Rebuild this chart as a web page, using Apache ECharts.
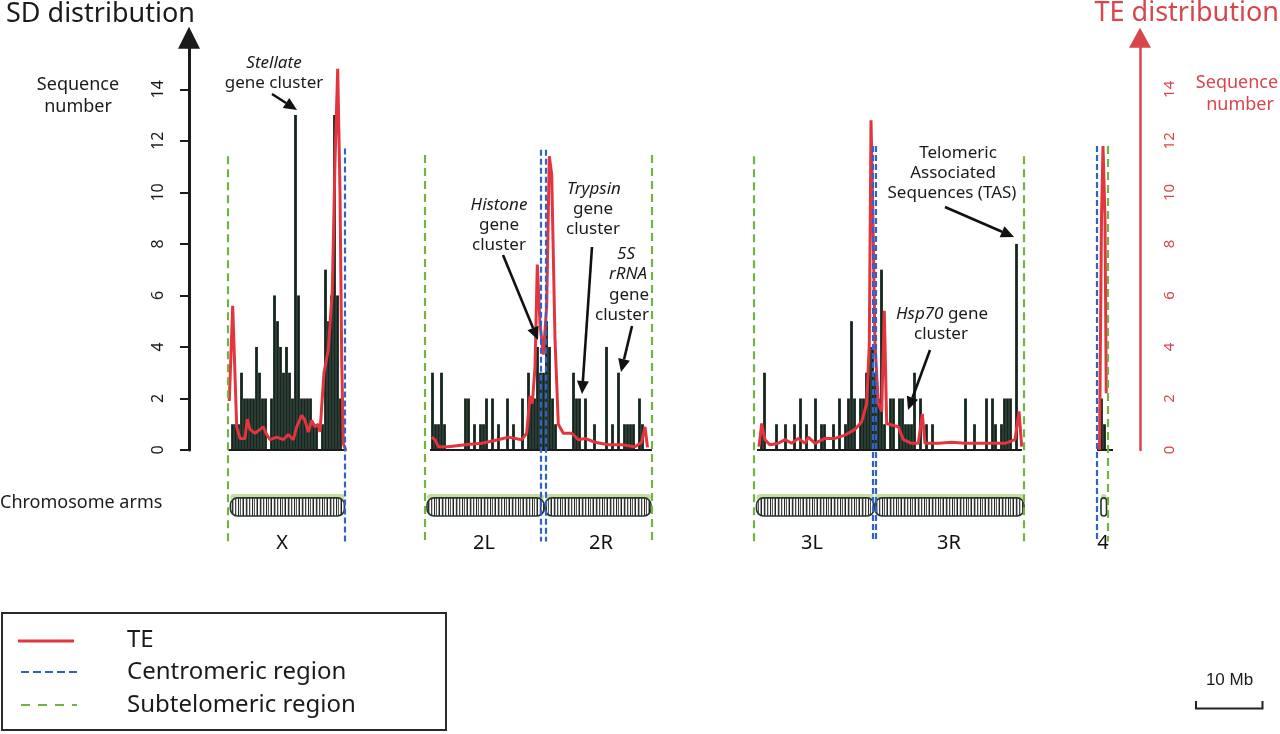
<!DOCTYPE html>
<html>
<head>
<meta charset="utf-8">
<script src="https://cdn.jsdelivr.net/npm/echarts@6/dist/echarts.min.js"></script>
<style>
html,body{margin:0;padding:0;background:#fff;}
#main{width:1280px;height:734px;}
</style>
</head>
<body>
<div id="main"></div>
<script>
// positions are Mb on one shared axis (arms laid side by side)
var binMb = 0.6
var chromStart = [8.6, 48.6, 114.4, 182.4]   // X, 2, 3, 4 : start of first SD bin

// SD sequence number per bin
var sdX = [0,1,1,1,3,2,2,2,2,4,3,2,2,0,2,6,5,4,3,4,3,2,13,6,2,2,2,2,1,1,0,1,7,5,6,13,6,2,0]
var sd2 = [0,3,1,1,3,1,0,0,0,0,0,0,2,2,0,1,0,1,1,2,0,2,0,1,0,0,2,0,1,0,0,2,0,3,2,2,4,3,3,5,4,2,1,0,0,0,0,0,3,2,2,0,2,0,0,1,0,0,0,4,0,1,0,3,0,1,1,1,1,0,2,1,0,0,0]
var sd3 = [0,1,3,0,0,0,1,0,0,1,0,0,1,0,2,0,1,0,0,2,0,1,1,0,0,1,0,2,0,1,2,5,2,0,2,2,3,4,4,3,2,7,1,0,2,2,0,2,2,1,1,1,3,0,2,0,1,0,1,0,0,0,0,0,0,0,0,0,0,2,0,0,1,0,0,0,2,0,2,1,0,1,2,2,2,0,8,0,0]
var sd4 = [0,2,1]

// TE sequence number along each chromosome
var teXPos = [8.86,9.54,10.34,11.0,12.0,12.46,13.0,14.0,15.0,15.66,16.34,17.0,18.34,19.66,20.66,21.66,22.34,23.34,24.0,24.66,25.34,26.0,26.66,27.0,27.8,28.66,29.46,30.0,30.54,31.0,31.34,31.66,32.14]
var teXVal = [1.9,5.6,0.9,0.45,0.45,1.2,0.8,0.65,0.8,0.9,0.6,0.4,0.5,0.4,0.6,0.4,0.9,1.35,1.15,0.7,1.15,0.9,1.0,0.7,3.0,3.9,6.2,11.2,14.8,10,3.5,0.25,0]
var te2Pos = [49.34,50.0,50.66,52.66,56.0,59.34,62.66,64.66,67.34,68.34,69.0,69.46,70.0,70.46,71.0,71.66,72.34,72.86,73.34,74.0,74.66,75.66,77.34,78.66,80.0,82.0,84.66,87.34,90.0,91.34,92.0,92.5]
var te2Val = [0.5,0.4,0.13,0.13,0.2,0.26,0.4,0.5,0.4,0.65,2.1,1.8,3.2,7.2,4.9,3.7,5.6,11.4,10.7,4.3,1.0,0.65,0.65,0.4,0.45,0.3,0.2,0.2,0.13,0.3,0.9,0.1]
var te3Pos = [114.8,115.34,116.0,117.0,118.66,120.0,121.34,122.66,124.0,124.66,126.0,128.0,130.0,132.0,134.0,135.34,136.34,136.86,137.2,137.54,138.0,138.66,139.34,139.86,140.34,141.34,142.66,143.66,145.34,146.66,147.46,148.0,150.66,153.34,156.0,158.66,161.34,164.0,166.0,166.8,167.34]
var te3Val = [0.13,1.03,0.4,0.2,0.26,0.4,0.26,0.45,0.26,0.5,0.26,0.45,0.45,0.58,0.8,1.1,1.8,4.1,12.8,9.6,4.1,1.8,1.5,5.4,1.03,0.97,0.9,0.4,0.26,0.26,1.4,0.26,0.26,0.3,0.26,0.26,0.26,0.26,0.4,1.5,0.13]
var te4Pos = [182.9,183.3,183.6,184.0,184.25]
var te4Val = [0,9,11.8,9,2.2]

// axis baselines under each chromosome
var baseStart = [8.7, 49.0, 114.4, 182.4]
var baseEnd = [32.3, 93.4, 167.4, 185.6]

// subtelomeric / centromeric region borders (x, top value)
var subtelPos = [8.5, 48.0, 93.3, 113.8, 167.7, 184.5]
var subtelTop = [11.4, 11.45, 11.45, 11.4, 11.4, 11.8]
var centroPos = [32.0, 71.2, 72.1, 137.5, 138.2, 182.3]
var centroTop = [11.7, 11.65, 11.65, 11.8, 11.8, 11.8]
var regionBottom = -3.55

// chromosome arms
var armNames = ['X', '2L', '2R', '3L', '3R', '4']
var armStart = [9.08, 48.4, 72.0, 114.3, 138.0, 183.2]
var armEnd = [31.9, 71.8, 93.2, 137.8, 167.8, 184.3]
var armLabelX = [19.4, 59.8, 83.2, 125.4, 152.8, 183.6]

var yTicks = [0, 2, 4, 6, 8, 10, 12, 14]

var FONT = '"Noto Sans", "Open Sans", sans-serif'
var ink = '#1b1b1b', barColor = '#15261d', teRed = '#e2353d', axisRed = '#d8454a'
var blue = '#2f63c6', green = '#72b443'

function binData(start, heights){
    return heights.map(function(h, i){ return [start + binMb * (i + 0.5), h] })
}
function pairs(xs, ys){
    return xs.map(function(x, i){ return [x, ys[i]] })
}

var sdData = binData(chromStart[0], sdX)
    .concat(binData(chromStart[1], sd2))
    .concat(binData(chromStart[2], sd3))
    .concat(binData(chromStart[3], sd4))

// barcode-like fill for the arm boxes
var pat = document.createElement('canvas')
pat.width = 14; pat.height = 4
var pg = pat.getContext('2d')
var stripeCols = ['#2a2a2a','#e6e6e6','#5a5a5a','#ffffff','#9a9a9a','#222222','#ffffff','#d8d8d8','#333333','#a8a8a8','#ffffff','#444444','#c8c8c8','#ffffff']
stripeCols.forEach(function(c, i){ pg.fillStyle = c; pg.fillRect(i, 0, 1, 4) })
var stripeFill = {image: pat, repeat: 'repeat'}

var armTop = -1.86, armBottom = -2.56, armLabelY = -3.62

function renderArm(params, api){
    var a = api.coord([api.value(0), armTop])
    var b = api.coord([api.value(1), armBottom])
    var w = b[0] - a[0], h = b[1] - a[1]
    var small = w < 10
    return {type: 'group', children: [
        {type: 'rect', shape: {x: a[0], y: a[1] - 4, width: w, height: 6, r: 3}, style: {fill: 'rgba(168,204,108,0.65)'}},
        {type: 'rect', shape: {x: a[0], y: a[1], width: w, height: h, r: small ? w / 2 : 7},
            style: {fill: small ? '#ffffff' : stripeFill, stroke: '#24352b', lineWidth: 1.6}}
    ]}
}

function txt(text, x, y, size, color, align, italic){
    var f = (italic ? 'italic ' : '') + size + 'px ' + FONT
    return {type: 'text', x: x, y: y, silent: true, z: 10,
        style: {text: text, font: f, fill: color, align: align, textAlign: align,
            verticalAlign: 'middle', textVerticalAlign: 'middle', legacy: false}}
}

function arrow(x1, y1, x2, y2){
    var dx = x2 - x1, dy = y2 - y1, len = Math.sqrt(dx * dx + dy * dy)
    var ux = dx / len, uy = dy / len, hl = 13, hw = 6
    var bx = x2 - ux * hl, by = y2 - uy * hl
    return [
        {type: 'line', silent: true, z: 10, shape: {x1: x1, y1: y1, x2: bx, y2: by}, style: {stroke: '#111', lineWidth: 2.6}},
        {type: 'polygon', silent: true, z: 10, shape: {points: [[x2, y2], [bx - uy * hw, by + ux * hw], [bx + uy * hw, by - ux * hw]]}, style: {fill: '#111'}}
    ]
}

var graphics = [
    txt('SD distribution', 6, 14, 27, ink, 'left'),
    txt('TE distribution', 1279, 13, 27, axisRed, 'right'),
    txt('Sequence', 78, 85, 18, ink, 'center'),
    txt('number', 78, 107, 18, ink, 'center'),
    txt('Sequence', 1237, 83, 18, axisRed, 'center'),
    txt('number', 1240, 105, 18, axisRed, 'center'),
    txt('Chromosome arms', 0, 503, 18, ink, 'left'),

    txt('Stellate', 274, 63, 17, ink, 'center', true),
    txt('gene cluster', 274, 83, 17, ink, 'center'),
    txt('Histone', 499, 205, 17, ink, 'center', true),
    txt('gene', 499, 225, 17, ink, 'center'),
    txt('cluster', 499, 245, 17, ink, 'center'),
    txt('Trypsin', 594, 189, 17, ink, 'center', true),
    txt('gene', 593, 209, 17, ink, 'center'),
    txt('cluster', 593, 229, 17, ink, 'center'),
    txt('5S', 626, 254, 17, ink, 'center', true),
    txt('rRNA', 628, 274, 17, ink, 'center', true),
    txt('gene', 629, 295, 17, ink, 'center'),
    txt('cluster', 622, 315, 17, ink, 'center'),
    txt('Telomeric', 958, 153, 17, ink, 'center'),
    txt('Associated', 953, 173, 17, ink, 'center'),
    txt('Sequences (TAS)', 952, 193, 17, ink, 'center'),
    {type: 'text', x: 942, y: 314, silent: true, z: 10,
        style: {text: '{i|Hsp70} gene', font: '17px ' + FONT, fill: ink, align: 'center', textAlign: 'center',
            verticalAlign: 'middle', textVerticalAlign: 'middle', legacy: false,
            rich: {i: {font: 'italic 17px ' + FONT, fill: ink}}}},
    txt('cluster', 941, 334, 17, ink, 'center'),

    // arm names under the boxes
    txt('X', 282, 543, 20, '#111', 'center'),
    txt('2L', 484, 543, 20, '#111', 'center'),
    txt('2R', 601, 543, 20, '#111', 'center'),
    txt('3L', 812, 543, 20, '#111', 'center'),
    txt('3R', 949, 543, 20, '#111', 'center'),
    txt('4', 1103, 543, 20, '#111', 'center'),

    // legend
    {type: 'rect', silent: true, shape: {x: 2, y: 613, width: 444, height: 117}, style: {fill: 'none', stroke: '#2a2a2a', lineWidth: 2}},
    {type: 'line', silent: true, shape: {x1: 18, y1: 641, x2: 74, y2: 641}, style: {stroke: teRed, lineWidth: 3}},
    {type: 'line', silent: true, shape: {x1: 21, y1: 672, x2: 77, y2: 672}, style: {stroke: blue, lineWidth: 2, lineDash: [8, 4]}},
    {type: 'line', silent: true, shape: {x1: 21, y1: 705, x2: 77, y2: 705}, style: {stroke: green, lineWidth: 2, lineDash: [9, 8]}},
    txt('TE', 127, 640, 24, ink, 'left'),
    txt('Centromeric region', 127, 672, 24, ink, 'left'),
    txt('Subtelomeric region', 127, 705, 24, ink, 'left'),

    // scale bar
    {type: 'text', x: 1229.5, y: 680, silent: true,
        style: {text: '10 Mb', font: '17px "Liberation Sans", Arial, sans-serif', fill: ink, align: 'center', textAlign: 'center',
            verticalAlign: 'middle', textVerticalAlign: 'middle', legacy: false}},
    {type: 'polyline', silent: true, shape: {points: [[1196, 701], [1196, 708.5], [1262.5, 708.5], [1262.5, 701]]},
        style: {fill: 'none', stroke: '#222', lineWidth: 2}}
]
graphics = graphics
    .concat(arrow(272, 94, 297, 110))
    .concat(arrow(503, 255, 538, 340))
    .concat(arrow(592, 247, 582, 394))
    .concat(arrow(632, 326, 621, 372))
    .concat(arrow(945, 207, 1014, 237))
    .concat(arrow(930, 350, 908, 410))

function teSeries(xs, ys){
    return {type: 'line', name: 'TE', xAxisIndex: 0, yAxisIndex: 1, data: pairs(xs, ys),
        showSymbol: false, symbol: 'none', lineStyle: {color: teRed, width: 3}, z: 4, silent: true}
}

var myChart = echarts.init(document.getElementById('main'))
var option = {
    animation: false,
    backgroundColor: '#ffffff',
    textStyle: {fontFamily: FONT},
    grid: [
        {left: 189, right: 140, top: 37.8, bottom: 284},
        {left: 189, right: 140, top: 37.8, bottom: 180.96}
    ],
    xAxis: [
        {gridIndex: 0, type: 'value', min: 0.8, max: 191, show: false},
        {gridIndex: 1, type: 'value', min: 0.8, max: 191, show: false}
    ],
    yAxis: [
        {gridIndex: 0, type: 'value', min: 0, max: 16, interval: 2, position: 'left',
            axisLine: {show: true, lineStyle: {color: ink, width: 3}, symbol: ['none', 'triangle'], symbolSize: [22, 22]},
            axisTick: {show: true, length: 9, lineStyle: {color: ink, width: 2}, customValues: yTicks},
            axisLabel: {rotate: 90, margin: 23, fontSize: 16, color: ink, fontFamily: FONT, customValues: yTicks,
                formatter: function(v){ return v > 14 ? '' : v }},
            splitLine: {show: false}},
        {gridIndex: 0, type: 'value', min: 0, max: 16, interval: 2, position: 'right',
            axisLine: {show: true, lineStyle: {color: axisRed, width: 2.5}, symbol: ['none', 'triangle'], symbolSize: [22, 20]},
            axisTick: {show: false},
            axisLabel: {rotate: 90, margin: 22, fontSize: 15, color: axisRed, fontFamily: FONT, customValues: yTicks,
                formatter: function(v){ return v > 14 ? '' : v }},
            splitLine: {show: false}},
        {gridIndex: 1, type: 'value', min: -4, max: 16, show: false}
    ],
    graphic: {elements: graphics},
    series: [
        {type: 'bar', name: 'SD', xAxisIndex: 0, yAxisIndex: 0, data: sdData, barWidth: 2.8,
            itemStyle: {color: barColor}, z: 2, silent: true},
        {type: 'lines', coordinateSystem: 'cartesian2d', xAxisIndex: 0, yAxisIndex: 0, z: 3, silent: true,
            data: baseStart.map(function(s, i){ return {coords: [[s, 0], [baseEnd[i], 0]]} }),
            lineStyle: {color: ink, width: 2, opacity: 1}},
        teSeries(teXPos, teXVal),
        teSeries(te2Pos, te2Val),
        teSeries(te3Pos, te3Val),
        teSeries(te4Pos, te4Val),
        {type: 'lines', name: 'Subtelomeric region', coordinateSystem: 'cartesian2d', xAxisIndex: 1, yAxisIndex: 2, z: 5, silent: true,
            data: subtelPos.map(function(x, i){ return {coords: [[x, subtelTop[i]], [x, regionBottom]]} }),
            lineStyle: {color: green, width: 2.2, type: [8, 5], opacity: 1}},
        {type: 'lines', name: 'Centromeric region', coordinateSystem: 'cartesian2d', xAxisIndex: 1, yAxisIndex: 2, z: 6, silent: true,
            data: centroPos.map(function(x, i){ return {coords: [[x, centroTop[i]], [x, regionBottom]]} }),
            lineStyle: {color: blue, width: 2.2, type: [6, 3], opacity: 1}},
        {type: 'custom', name: 'arms', xAxisIndex: 1, yAxisIndex: 2, z: 4, silent: true, clip: false,
            renderItem: renderArm, encode: {x: [0, 1]},
            data: armStart.map(function(s, i){ return [s, armEnd[i]] })}
    ]
}
myChart.setOption(option)
</script>
</body>
</html>
